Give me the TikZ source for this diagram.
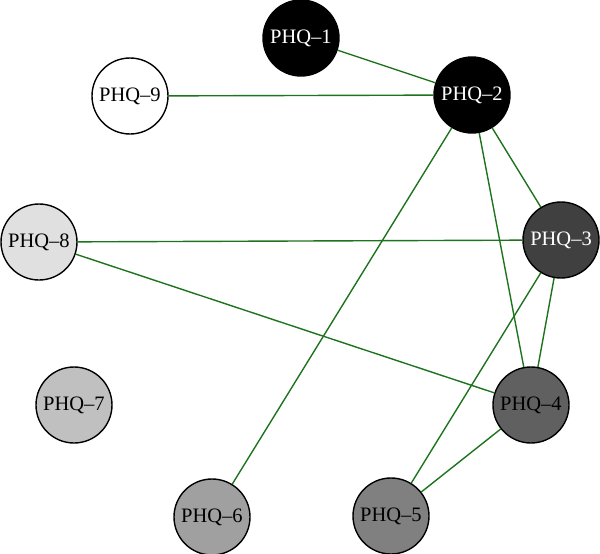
\documentclass[tikz,border=0pt]{standalone}
\usepackage{fontspec}
\setmainfont{Liberation Serif}
\definecolor{edgegreen}{RGB}{30,115,30}
\begin{document}
\begin{tikzpicture}[x=1pt,y=-1pt,
  phq/.style={circle,draw=black,line width=1.4pt,minimum size=76pt,inner sep=0pt,font=\fontsize{20.5}{24}\selectfont},
  dk/.style={phq,text=white},
  lt/.style={phq,text=black},
  edge/.style={draw=edgegreen,line width=1.4pt}]
\useasboundingbox (0,0) rectangle (600,554);
\node[dk,fill=black] (p1) at (301,38) {PHQ–1};
\node[dk,fill=black] (p2) at (472,95) {PHQ–2};
\node[dk,fill={rgb,255:red,64;green,64;blue,64}] (p3) at (561,240) {PHQ–3};
\node[lt,fill={rgb,255:red,96;green,96;blue,96}] (p4) at (531,405) {PHQ–4};
\node[lt,fill={rgb,255:red,128;green,128;blue,128}] (p5) at (391,516) {PHQ–5};
\node[lt,fill={rgb,255:red,160;green,160;blue,160}] (p6) at (212,517) {PHQ–6};
\node[lt,fill={rgb,255:red,192;green,192;blue,192}] (p7) at (74,405) {PHQ–7};
\node[lt,fill={rgb,255:red,224;green,224;blue,224}] (p8) at (39,242) {PHQ–8};
\node[lt,fill=white] (p9) at (130,96) {PHQ–9};
\draw[edge] (p1) -- (p2);
\draw[edge] (p9) -- (p2);
\draw[edge] (p2) -- (p3);
\draw[edge] (p2) -- (p4);
\draw[edge] (p2) -- (p6);
\draw[edge] (p8) -- (p3);
\draw[edge] (p8) -- (p4);
\draw[edge] (p3) -- (p4);
\draw[edge] (p3) -- (p5);
\draw[edge] (p4) -- (p5);
\end{tikzpicture}
\end{document}
